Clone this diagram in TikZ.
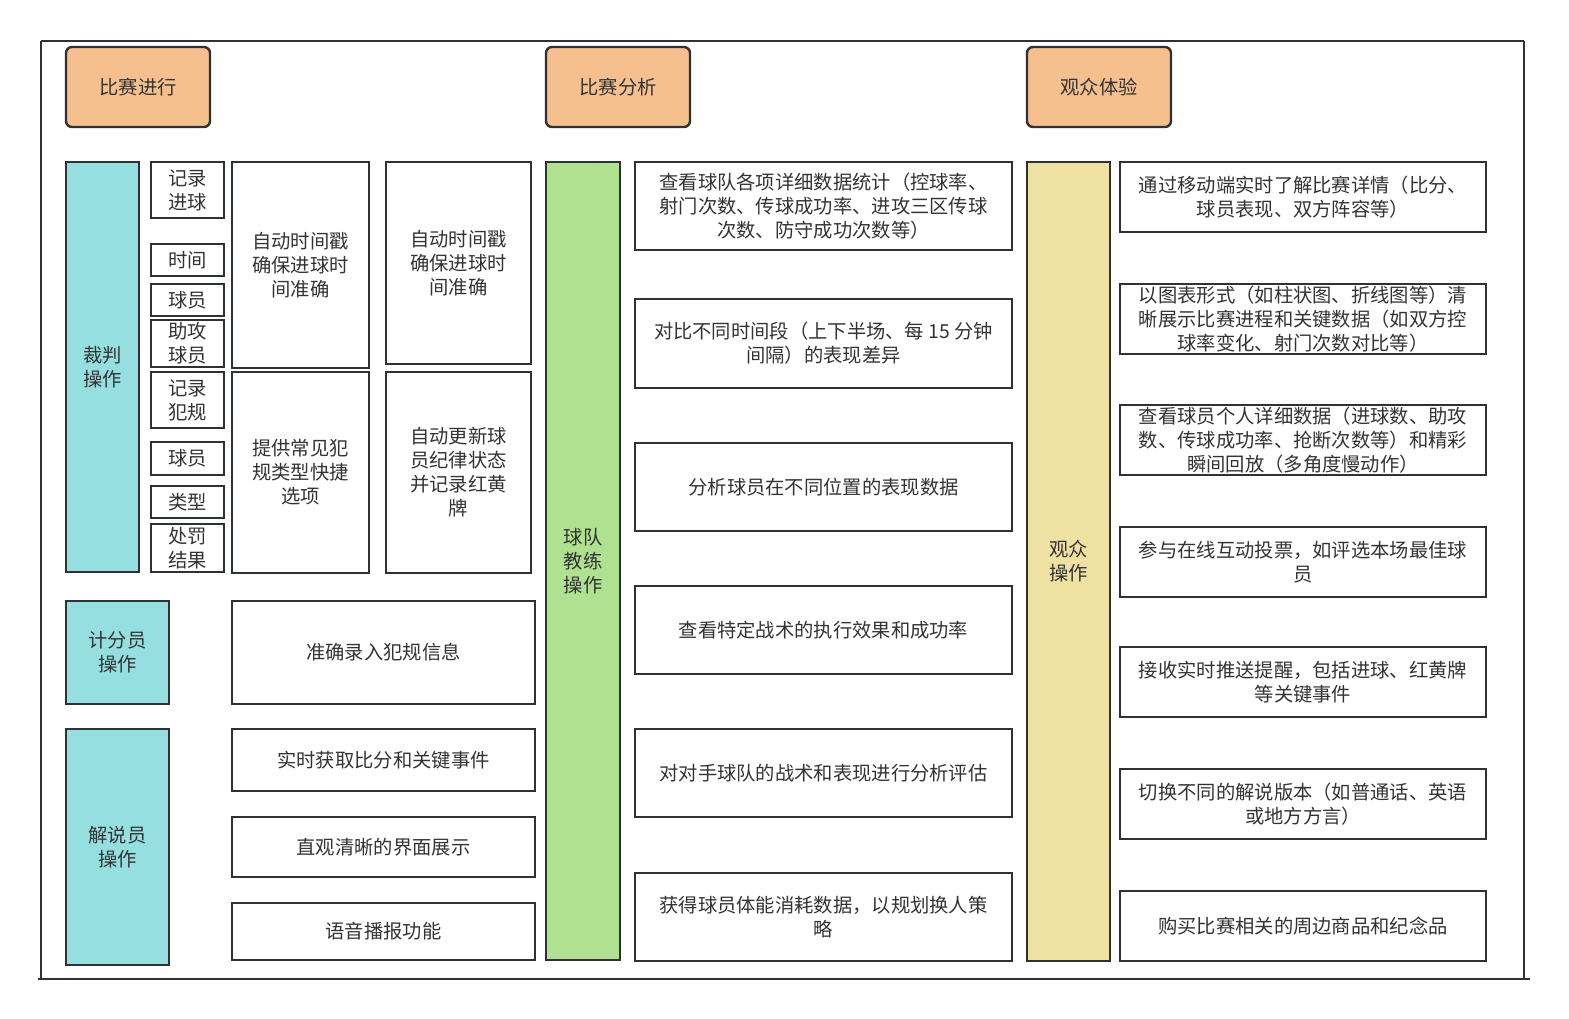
\documentclass[tikz,border=0pt]{standalone}
\usepackage{fontspec}
\setmainfont{Noto Sans CJK SC}
\definecolor{txt}{HTML}{333333}
\definecolor{edge}{HTML}{2E3236}
\definecolor{hdr}{HTML}{F5C08E}
\definecolor{cyanf}{HTML}{96DFE0}
\definecolor{greenf}{HTML}{AFE190}
\definecolor{yellf}{HTML}{EEE1A2}
\begin{document}
\begin{tikzpicture}[x=1pt,y=-1pt,
  every node/.style={font=\fontsize{19.3}{24}\selectfont, text=txt, align=center, inner sep=0pt},
  box/.style={draw=edge, line width=2.4pt, fill=white},
  hdrbox/.style={box, fill=hdr, rounded corners=6pt},
  cyanbox/.style={box, fill=cyanf},
  greenbox/.style={box, fill=greenf},
  yellbox/.style={box, fill=yellf},
  frameline/.style={draw=edge, line width=2pt}
]
\useasboundingbox (0,0) rectangle (1569,1019);
% frame
\coordinate (f1) at (41,41);
\coordinate (f2) at (1524,41);
\coordinate (f3) at (1524,979);
\coordinate (f4) at (41,979);
\coordinate (f5) at (38,979);
\coordinate (f6) at (1530,979);
\draw[frameline] (f1) -- (f2);
\draw[frameline] (f1) -- (f4);
\draw[frameline] (f2) -- (f3);
\draw[frameline] (f5) -- (f6);

% headers
\node[hdrbox, minimum width=144pt, minimum height=80pt] (h1) at (138,87) {比赛进行};
\node[hdrbox, minimum width=144pt, minimum height=80pt] (h2) at (618,87) {比赛分析};
\node[hdrbox, minimum width=144pt, minimum height=80pt] (h3) at (1099,87) {观众体验};

% referee
\node[cyanbox, minimum width=73pt, minimum height=410pt] (ref) at (102.5,367) {裁判\\操作};
\node[box, minimum width=73pt, minimum height=56pt] (s1) at (187.5,190) {记录\\进球};
\node[box, minimum width=73pt, minimum height=32pt] (s2) at (187.5,260) {时间};
\node[box, minimum width=73pt, minimum height=32pt] (s3) at (187.5,300) {球员};
\node[box, minimum width=73pt, minimum height=47pt] (s4) at (187.5,343.5) {助攻\\球员};
\node[box, minimum width=73pt, minimum height=56pt] (s5) at (187.5,400) {记录\\犯规};
\node[box, minimum width=73pt, minimum height=33pt] (s6) at (187.5,458.5) {球员};
\node[box, minimum width=73pt, minimum height=32pt] (s7) at (187.5,502) {类型};
\node[box, minimum width=73pt, minimum height=48pt] (s8) at (187.5,548) {处罚\\结果};

\node[box, minimum width=137pt, minimum height=206pt] (b1) at (300.5,265) {自动时间戳\\确保进球时\\间准确};
\node[box, minimum width=137pt, minimum height=201pt] (b2) at (300.5,472.5) {提供常见犯\\规类型快捷\\选项};
\node[box, minimum width=145pt, minimum height=202pt] (b3) at (458.5,263) {自动时间戳\\确保进球时\\间准确};
\node[box, minimum width=145pt, minimum height=201pt] (b4) at (458.5,472.5) {自动更新球\\员纪律状态\\并记录红黄\\牌};

% scorer
\node[cyanbox, minimum width=103pt, minimum height=103pt] (sc) at (117.5,652.5) {计分员\\操作};
\node[box, minimum width=303pt, minimum height=103pt] (sc1) at (383.5,652.5) {准确录入犯规信息};

% commentator
\node[cyanbox, minimum width=103pt, minimum height=236pt] (cm) at (117.5,847) {解说员\\操作};
\node[box, minimum width=303pt, minimum height=62pt] (c1) at (383.5,760) {实时获取比分和关键事件};
\node[box, minimum width=303pt, minimum height=60pt] (c2) at (383.5,847) {直观清晰的界面展示};
\node[box, minimum width=303pt, minimum height=57pt] (c3) at (383.5,931.5) {语音播报功能};

% coach
\node[greenbox, minimum width=74pt, minimum height=798pt] (coach) at (583,561) {球队\\教练\\操作};
\node[box, minimum width=377pt, minimum height=88pt] (a1) at (823.5,206) {查看球队各项详细数据统计（控球率、\\射门次数、传球成功率、进攻三区传球\\次数、防守成功次数等）};
\node[box, minimum width=377pt, minimum height=89pt] (a2) at (823.5,343.5) {对比不同时间段（上下半场、每 15 分钟\\间隔）的表现差异};
\node[box, minimum width=377pt, minimum height=88pt] (a3) at (823.5,487) {分析球员在不同位置的表现数据};
\node[box, minimum width=377pt, minimum height=88pt] (a4) at (823.5,630) {查看特定战术的执行效果和成功率};
\node[box, minimum width=377pt, minimum height=88pt] (a5) at (823.5,773) {对对手球队的战术和表现进行分析评估};
\node[box, minimum width=377pt, minimum height=88pt] (a6) at (823.5,917) {获得球员体能消耗数据，以规划换人策\\略};

% audience
\node[yellbox, minimum width=83pt, minimum height=799pt] (aud) at (1068.5,561.5) {观众\\操作};
\node[box, minimum width=366pt, minimum height=70pt] (r1) at (1303,197) {通过移动端实时了解比赛详情（比分、\\球员表现、双方阵容等）};
\node[box, minimum width=366pt, minimum height=70pt] (r2) at (1303,319) {以图表形式（如柱状图、折线图等）清\\晰展示比赛进程和关键数据（如双方控\\球率变化、射门次数对比等）};
\node[box, minimum width=366pt, minimum height=70pt] (r3) at (1303,440) {查看球员个人详细数据（进球数、助攻\\数、传球成功率、抢断次数等）和精彩\\瞬间回放（多角度慢动作）};
\node[box, minimum width=366pt, minimum height=70pt] (r4) at (1303,562) {参与在线互动投票，如评选本场最佳球\\员};
\node[box, minimum width=366pt, minimum height=70pt] (r5) at (1303,682) {接收实时推送提醒，包括进球、红黄牌\\等关键事件};
\node[box, minimum width=366pt, minimum height=70pt] (r6) at (1303,804) {切换不同的解说版本（如普通话、英语\\或地方方言）};
\node[box, minimum width=366pt, minimum height=70pt] (r7) at (1303,926) {购买比赛相关的周边商品和纪念品};
\end{tikzpicture}
\end{document}
